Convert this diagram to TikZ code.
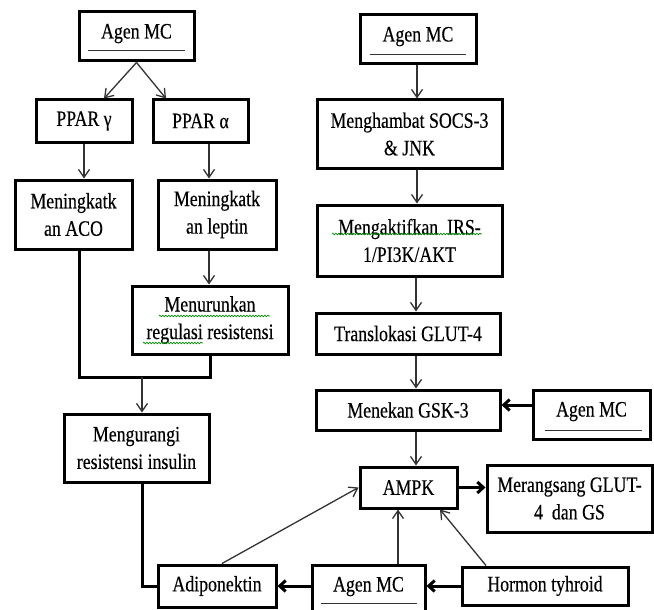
\documentclass[tikz,border=0pt]{standalone}
\usepackage{fontspec}
\setmainfont{Liberation Serif}
\newfontfamily\diagfont{Liberation Serif}[FakeBold=0.3,FakeStretch=0.81]
\usetikzlibrary{arrows.meta,decorations.pathmorphing}
\begin{document}
\begin{tikzpicture}[x=1pt,y=-1pt,
 box/.style={draw=black,line width=3pt,rectangle,inner sep=2pt,align=center,font=\diagfont\fontsize{22}{27.5}\selectfont},
 agen/.style={box,text height=12pt,text depth=8pt},
 arr/.style={draw=black!80,line width=1.3pt,-{Straight Barb[length=8pt,width=11pt]}},
 thk/.style={draw=black,line width=3pt},
 thkarr/.style={thk,-{Straight Barb[length=6pt,width=11pt]}},
 ul/.style={line width=1.5pt,draw=black!80},
 squig/.style={draw=green!55!black,line width=0.7pt,decorate,decoration={snake,amplitude=0.8pt,segment length=3pt}}
]
\useasboundingbox (0,0) rectangle (654,610);
\fill[white] (0,0) rectangle (654,610);

% left column
\node[agen,minimum width=115pt,minimum height=49pt] (a1) at (136.5,36.5) {Agen MC};
\node[box,minimum width=96pt,minimum height=42pt] (pg) at (84,121) {PPAR γ};
\node[box,minimum width=95pt,minimum height=42pt] (pa) at (200.5,121) {PPAR α};
\node[box,minimum width=117pt,minimum height=69pt] (aco) at (73.5,214.5) {Meningkatk\\an ACO};
\node[box,minimum width=118pt,minimum height=69pt] (lep) at (217,214.5) {Meningkatk\\an leptin};
\node[box,minimum width=156pt,minimum height=68pt] (men) at (210,320) {Menurunkan\\regulasi resistensi};
\node[box,minimum width=145pt,minimum height=68pt] (kur) at (136.5,448) {Mengurangi\\resistensi insulin};
\node[box,minimum width=118pt,minimum height=42pt] (adi) at (217,586) {Adiponektin};

% right column
\node[agen,minimum width=116pt,minimum height=49pt] (a2) at (418,39.5) {Agen MC};
\node[box,minimum width=185pt,minimum height=68pt] (soc) at (409.5,134) {Menghambat SOCS-3\\\& JNK};
\node[box,minimum width=185pt,minimum height=71pt] (irs) at (409.5,240.5) {Mengaktifkan\ \ IRS-\\1/PI3K/AKT};
\node[box,minimum width=184pt,minimum height=41pt] (glut) at (408,333.5) {Translokasi GLUT-4};
\node[box,minimum width=184pt,minimum height=40pt] (gsk) at (408,410) {Menekan GSK-3};
\node[agen,minimum width=117pt,minimum height=49pt] (a3) at (591.5,414.5) {Agen MC};
\node[box,minimum width=165pt,minimum height=67pt] (mer) at (569.5,498.5) {Merangsang GLUT-\\4\ \ dan GS};
\node[box,minimum width=97pt,minimum height=41pt] (ampk) at (408.5,487.5) {AMPK};
\node[agen,minimum width=113pt,minimum height=49pt] (a4) at (368.5,589.5) {Agen MC};
\node[box,minimum width=166pt,minimum height=38pt] (hor) at (545,586) {Hormon tyhroid};

% underlines
\draw[ul] ([xshift=10pt,yshift=12pt]a1.south west) -- ([xshift=-11pt,yshift=12pt]a1.south east);
\draw[ul] ([xshift=11pt,yshift=11pt]a2.south west) -- ([xshift=-12pt,yshift=11pt]a2.south east);
\draw[ul] ([xshift=13pt,yshift=10pt]a3.south west) -- ([xshift=-10pt,yshift=10pt]a3.south east);
\draw[ul] ([xshift=10pt,yshift=12pt]a4.south west) -- ([xshift=-10pt,yshift=12pt]a4.south east);

% spell-check squiggles
\draw[squig] (159,316) -- (270,316);
\draw[squig] (143,343) -- (203,343);
\draw[squig] (332,234) -- (482,234);

% left connectors
\draw[arr] (a1.south) -- ([xshift=20pt]pg.north);
\draw[arr] (a1.south) -- ([xshift=-34.5pt]pa.north);
\draw[arr] (pg.south) -- (pg.south |- aco.north);
\coordinate (pax) at ([xshift=8.5pt]pa.south);
\draw[arr] (pax) -- (pax |- lep.north);
\coordinate (lex) at ([xshift=-8pt]lep.south);
\draw[arr] (lex) -- (lex |- men.north);
\coordinate (mj) at (142,377);
\draw[thk] ([xshift=5.5pt]aco.south) |- (men.south |- mj) -- (men.south);
\draw[arr] (mj) -- (mj |- kur.north);
\draw[thk] ([xshift=5.5pt]kur.south) |- (adi.west);
\draw[arr] ([xshift=5pt]adi.north) -- (ampk.west);

% right connectors
\coordinate (cx) at (417,0);
\draw[arr] (cx |- a2.south) -- (cx |- soc.north);
\draw[arr] (cx |- soc.south) -- (cx |- irs.north);
\coordinate (cy) at (416,0);
\draw[arr] (cy |- irs.south) -- (cy |- glut.north);
\draw[arr] (cy |- glut.south) -- (cy |- gsk.north);
\draw[arr] (cy |- gsk.south) -- (cy |- ampk.north);
\coordinate (gy) at ([yshift=5pt]gsk.east);
\draw[thkarr] (a3.west |- gy) -- (gy);
\draw[thkarr] (ampk.east) -- (ampk.east -| mer.west);
\coordinate (a4x) at ([xshift=29.5pt]a4.north);
\draw[arr] (a4x) -- (a4x |- ampk.south);
\draw[arr] ([xshift=-59pt]hor.north) -- ([xshift=31.5pt]ampk.south);
\draw[thkarr] (hor.west) -- (hor.west -| a4.east);
\draw[thkarr] (adi.east -| a4.west) -- (adi.east);
\end{tikzpicture}
\end{document}
